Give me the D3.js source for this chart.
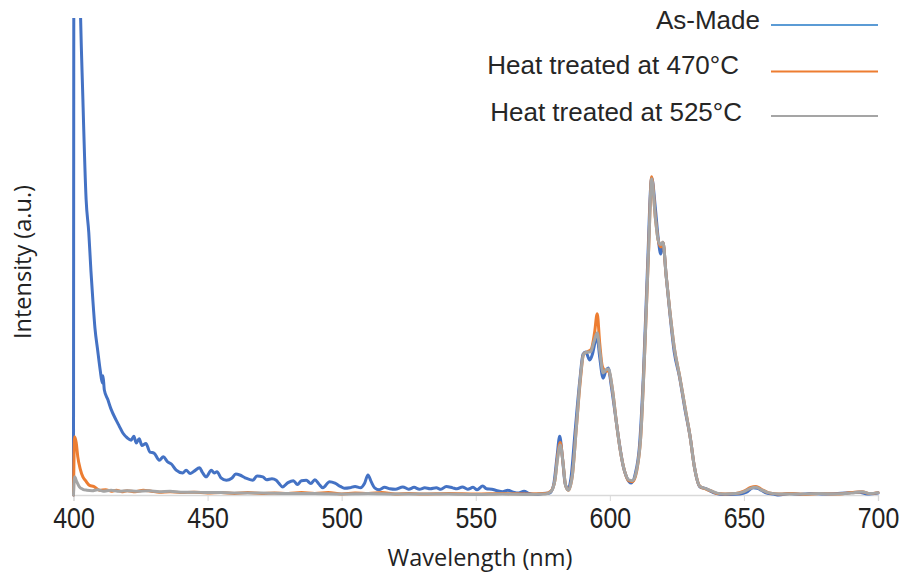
<!DOCTYPE html>
<html>
<head>
<meta charset="utf-8">
<script src="https://cdn.jsdelivr.net/npm/d3@7"></script>
<style>
  body { margin: 0; background: #fff; }
  svg { display: block; }
</style>
</head>
<body>
<div id="chart"></div>
<script>
// spectra: [wavelength nm, intensity a.u.]
const asMade = [[400,0],[400.2,140],[401.6,140],[402.3,110],[403.5,83],[404.7,62],[405.7,55],[406.5,47],[407.2,41],[408,35],[409,30.4],[410,26],[410.7,23.5],[411,25],[411.5,22],[412.8,20],[414,18],[415.9,15.7],[417,14.5],[418.4,13],[420,12],[421.5,11.5],[422.5,12.3],[423.4,10.9],[424.5,11.8],[425.5,10.4],[427,10.8],[428.5,9],[430,8.8],[432,7.3],[433.5,8],[435,7],[436.5,6.5],[438.3,5.2],[440.7,4.6],[442,5.2],[443.5,4.5],[445,5],[447,5.7],[448,4.8],[449.5,3.8],[451.4,5.2],[452.5,4.6],[453.5,4.9],[455,3.6],[457,3.1],[459,3.5],[460.5,4.4],[462,4.2],[464,3.6],[466.8,3.1],[468.5,4],[470.6,3.8],[472,3.2],[474,3.4],[475.6,3.1],[476.5,2.5],[478,1.7],[480,2.6],[482,3],[483.5,2.2],[485,3],[486.8,3.1],[488.5,2.4],[490,3.2],[491.5,2.3],[493,1.5],[495.5,2.8],[497.5,2.5],[499.5,1.8],[501,1.4],[503,1.5],[505,1.8],[507,1.5],[508.5,2.4],[509.8,4.2],[511,2.8],[512.3,1.5],[514,1.1],[516,1.6],[518,1.3],[520,1.2],[522.8,1.7],[525,1.2],[527,1.6],[529,1.2],[531,1.5],[533,1.3],[535.3,1.5],[537,1.2],[539,1.8],[541.4,1.5],[543,1.3],[545,1.7],[547,1.2],[549,1.6],[550.5,1.1],[552.6,1.9],[554,1.3],[556,1.2],[558,0.9],[560,0.7],[562,1],[564,0.6],[566,0.4],[568,0.8],[570,0.3],[572.6,0.1],[575,0.3],[577.6,0.4],[579,2],[580.3,8],[581.3,12.3],[582.3,8],[583.3,2.5],[584.4,1.2],[585.5,3.5],[587,13],[588.8,24],[590,29.5],[591,30],[592.5,28.3],[593.5,29.5],[594.5,32],[595.3,33],[596.2,29],[597.5,24.5],[598.5,26],[599.4,26.6],[600.5,23],[602,17],[603.5,11],[605,6],[606.2,3.8],[608,2.5],[609.5,4.5],[611,10],[612.5,25],[614,47],[615.6,66.5],[617,60],[618,54],[619,50.5],[619.8,53],[621,46],[622.4,38],[624,30],[626,24.7],[628,18],[630,12],[631.5,6],[633.6,1.7],[636,1.3],[637.5,0.8],[639.8,0.3],[642,0.1],[645,0.1],[648.5,0.2],[651,0.6],[653.4,1.5],[655,1.4],[656.5,1],[658.5,0.4],[661,0.2],[663,0],[667,0.3],[671,0.1],[675,0.3],[680,0.2],[685,0.3],[690,0.5],[693,0.6],[696,0.2],[700,0.4]];

const heat470 = [[400,0],[400.4,12.2],[401,11],[401.6,8],[402.5,5.5],[403.5,3.8],[404.5,3],[406,2],[407.5,1.8],[409.7,1],[412,1.1],[414,0.8],[416,1],[418,0.7],[420,0.9],[423,0.7],[426,1],[429,0.8],[432,0.6],[436,0.7],[440,0.5],[445,0.6],[450,0.4],[455,0.5],[460,0.3],[465,0.5],[470,0.3],[475,0.4],[480,0.3],[485,0.5],[490,0.3],[495,0.5],[500,0.2],[505,0.4],[510,0.3],[515,0.5],[520,0.2],[525,0.3],[530,0.2],[540,0.3],[550,0.2],[560,0.3],[570,0.2],[576,0.3],[578,0.8],[579.5,3],[580.5,8],[581.5,11],[582.5,7],[583.5,2],[584.5,1],[586,4],[587.5,14],[589,24],[590.2,29.5],[591.5,30],[593,30.5],[594.3,34],[595.3,38],[596.2,32],[597.2,27],[598.5,26],[599.5,26],[601,22],[602.5,15],[604,9],[605.5,5],[607,3],[608.5,2.8],[610,5],[611.5,12],[613,30],[614.5,52],[615.6,66.7],[617,58],[618,53.5],[619,52],[619.8,53],[621,46],[622.4,38.5],[624,31],[626,25],[628,18.5],[630,12],[631.5,6],[633.6,1.8],[636,1.2],[638,0.8],[640,0.3],[643,0.2],[647,0.3],[650,0.8],[652.5,1.6],[654.5,1.8],[656.5,1.2],[659,0.5],[663,0.2],[668,0.3],[673,0.1],[678,0.3],[684,0.2],[690,0.5],[694,0.7],[697,0.3],[700,0.5]];

const heat525 = [[400,0],[400.4,3.8],[401.2,2.8],[402.2,1.7],[403.5,1.2],[405,1],[407,0.9],[409,1.1],[411,0.8],[414,1],[417,0.8],[420,0.9],[424,0.8],[428,0.9],[432,0.7],[436,0.8],[440,0.6],[445,0.6],[450,0.5],[455,0.5],[460,0.4],[470,0.4],[480,0.3],[490,0.3],[500,0.2],[510,0.3],[520,0.2],[530,0.2],[540,0.2],[550,0.1],[560,0.2],[570,0.1],[576,0.2],[578,0.7],[579.5,3],[580.5,7.5],[581.5,10.5],[582.5,7],[583.5,2],[584.5,1],[586,4],[587.5,14],[589,24.5],[590.2,29.5],[591.5,30],[592.8,30],[594,32],[595.3,34],[596.3,30],[597.5,25.6],[598.5,26.2],[599.5,26.4],[601,22],[602.5,15],[604,9],[605.5,5],[607,3.2],[608.5,3],[610,5.2],[611.5,12],[613,30],[614.5,52],[615.6,66.3],[617,58],[618,53.5],[619,52.5],[619.8,53],[621,46],[622.4,38.5],[624,31],[626,25],[628,18.5],[630,12],[631.5,6],[633.6,1.8],[636,1.3],[638,0.8],[640,0.4],[643,0.2],[647,0.3],[650,0.7],[652.5,1.4],[654.5,1.6],[656.5,1.1],[659,0.5],[663,0.2],[668,0.2],[673,0.2],[678,0.3],[684,0.2],[690,0.4],[694,0.7],[697,0.3],[700,0.5]];

const seriesNames = ["As-Made", "Heat treated at 470°C", "Heat treated at 525°C"];
const seriesColors = ["#4472C4", "#ED7D31", "#A5A5A5"];
const legendColors = ["#5B9BD5", "#ED7D31", "#A5A5A5"];
const xTicks = [400, 450, 500, 550, 600, 650, 700];

const width = 904, height = 577;
const svg = d3.select("#chart").append("svg")
    .attr("width", width)
    .attr("height", height);

// scales - plot area from x=74 to 878, baseline at y=495
const x = d3.scaleLinear().domain([400, 700]).range([73.5, 878]);
const y = d3.scaleLinear().domain([0, 100]).range([495, 18]);

svg.append("clipPath").attr("id", "plotClip")
  .append("rect")
    .attr("x", 70).attr("y", 18)
    .attr("width", 812).attr("height", 480);

// x axis
const xAxis = svg.append("g")
    .attr("transform", `translate(0,${y(0)})`)
    .call(d3.axisBottom(x).tickValues(xTicks).tickSize(6).tickPadding(6).tickFormat(d3.format("d")));
xAxis.select(".domain").attr("stroke", "#d9d9d9").attr("stroke-width", 1.3);
xAxis.selectAll(".tick line").attr("stroke", "#d9d9d9");
// labels look condensed in the original, squeeze them a bit
xAxis.selectAll(".tick text")
    .attr("fill", "#222")
    .attr("transform", "scale(0.86,1)")
    .style("font-family", "'Liberation Sans', Arial, sans-serif")
    .style("font-size", "29px");

// lines
const line = d3.line()
    .x(d => x(d[0]))
    .y(d => y(d[1]))
    .curve(d3.curveMonotoneX);

const allSeries = [asMade, heat470, heat525];

svg.append("g")
    .attr("clip-path", "url(#plotClip)")
  .selectAll("path")
  .data(allSeries)
  .enter()
  .append("path")
    .attr("d", line)
    .attr("fill", "none")
    .attr("stroke", (d, i) => seriesColors[i])
    .attr("stroke-width", 3)
    .attr("stroke-linejoin", "round")
    .attr("stroke-linecap", "round");

// axis titles
svg.append("text")
    .attr("x", 480)
    .attr("y", 566)
    .attr("text-anchor", "middle")
    .attr("fill", "#222")
    .style("font-family", "'Open Sans', sans-serif")
    .style("font-size", "23.5px")
    .text("Wavelength (nm)");

svg.append("text")
    .attr("transform", "translate(31,262) rotate(-90)")
    .attr("text-anchor", "middle")
    .attr("fill", "#222")
    .style("font-family", "'Open Sans', sans-serif")
    .style("font-size", "23.5px")
    .text("Intensity (a.u.)");

// legend (top right)
const legendTextEnd = [760, 739, 742];
const legendTextY = [29, 74, 121];
const legendLineY = [25, 71.5, 116];

const legend = svg.append("g");
legend.selectAll("text")
  .data(seriesNames)
  .enter()
  .append("text")
    .attr("x", (d, i) => legendTextEnd[i])
    .attr("y", (d, i) => legendTextY[i])
    .attr("text-anchor", "end")
    .attr("fill", "#262626")
    .style("font-family", "'Liberation Sans', Arial, sans-serif")
    .style("font-size", "26px")
    .text(d => d);

legend.selectAll("line")
  .data(seriesNames)
  .enter()
  .append("line")
    .attr("x1", 771).attr("x2", 878)
    .attr("y1", (d, i) => legendLineY[i])
    .attr("y2", (d, i) => legendLineY[i])
    .attr("stroke", (d, i) => legendColors[i])
    .attr("stroke-width", 2.2);
</script>
</body>
</html>
